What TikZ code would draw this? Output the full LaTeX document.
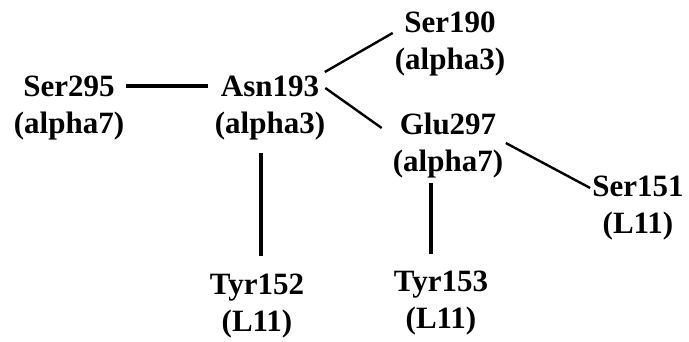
\documentclass[tikz,border=0pt]{standalone}
\usepackage{fontspec}
\setmainfont{Liberation Serif}
\begin{document}
\begin{tikzpicture}[x=1pt,y=-1pt,
  res/.style={align=center,inner sep=0pt,font=\fontsize{31}{37}\selectfont\bfseries},
  bond/.style={line width=3.2pt},
  dbond/.style={line width=2.4pt}]
\useasboundingbox (0,0) rectangle (689,342);
\node[res] (s295) at (69,108) {Ser295\\(alpha7)};
\node[res] (asn) at (270,108) {Asn193\\(alpha3)};
\node[res] (s190) at (450,44) {Ser190\\(alpha3)};
\node[res] (glu) at (448,146) {Glu297\\(alpha7)};
\node[res] (s151) at (638,208) {Ser151\\(L11)};
\node[res] (t152) at (257,306) {Tyr152\\(L11)};
\node[res] (t153) at (441,303) {Tyr153\\(L11)};
\draw[bond] ([shift={(1.5pt,22pt)}]s295.east) -- ([shift={(-6.5pt,22pt)}]asn.west);
\draw[dbond] ([shift={(-0.5pt,36pt)}]asn.east) -- ([shift={(-2pt,11pt)}]s190.west);
\draw[dbond] ([shift={(0pt,20pt)}]asn.east) -- ([shift={(-11pt,18pt)}]glu.west);
\draw[dbond] ([shift={(2.5pt,3pt)}]glu.east) -- ([shift={(-2pt,20pt)}]s151.west);
\draw[bond] ([shift={(-9pt,-12.6pt)}]asn.south) -- ([shift={(4pt,17.5pt)}]t152.north);
\draw[bond] ([shift={(-17pt,-4.6pt)}]glu.south) -- ([shift={(-10pt,16.5pt)}]t153.north);
\end{tikzpicture}
\end{document}
